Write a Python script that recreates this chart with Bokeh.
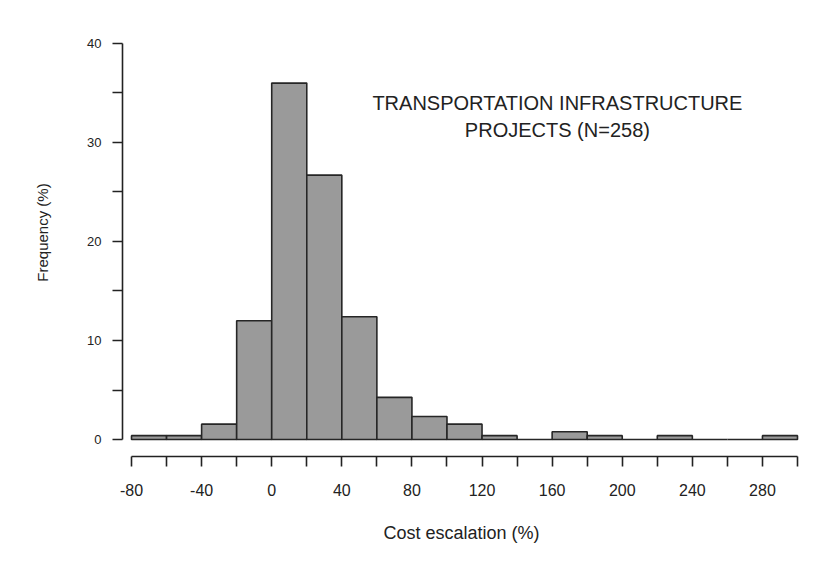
from bokeh.plotting import figure
from bokeh.models import FixedTicker, Range1d, ColumnDataSource
from bokeh.core.properties import value
from bokeh.embed import file_html
from bokeh.resources import INLINE

# ---- data ----
bin_left = [-80, -60, -40, -20, 0, 20, 40, 60, 80, 100, 120, 140, 160, 180, 200, 220, 240, 260, 280]
bin_right = [-60, -40, -20, 0, 20, 40, 60, 80, 100, 120, 140, 160, 180, 200, 220, 240, 260, 280, 300]
freq_pct = [0.39, 0.39, 1.55, 12.0, 36.0, 26.7, 12.4, 4.26, 2.33, 1.55, 0.39, 0.0,
            0.78, 0.39, 0.0, 0.39, 0.0, 0.0, 0.39]

x_ticks = [-80, -40, 0, 40, 80, 120, 160, 200, 240, 280]
x_tick_labels = ["-80", "-40", "0", "40", "80", "120", "160", "200", "240", "280"]
x_minor = [-60, -20, 20, 60, 100, 140, 180, 220, 260, 300]
y_ticks = [0, 10, 20, 30, 40]
y_minor = [5, 15, 25, 35]

note_lines = ["TRANSPORTATION INFRASTRUCTURE", "PROJECTS (N=258)"]
note_x = [163, 163]
note_y = [34.0, 31.25]

FONT = "Liberation Sans"
INK = "#222222"

p = figure(width=825, height=577, output_backend="svg", toolbar_location=None,
           x_range=Range1d(-85.14, 301.71), y_range=Range1d(-1.717, 43.535),
           min_border_left=122, min_border_right=25, min_border_top=8, min_border_bottom=121)

p.grid.visible = False
p.outline_line_color = None
p.background_fill_color = "white"
p.border_fill_color = "white"

src = ColumnDataSource(dict(left=bin_left, right=bin_right, top=freq_pct, bottom=[0] * len(freq_pct)))
p.quad(left="left", right="right", top="top", bottom="bottom", source=src,
       fill_color="#9a9a9a", line_color="#262626", line_width=1.6)

p.text(x=note_x, y=note_y, text=note_lines, text_align="center", text_baseline="middle",
       text_font=value(FONT), text_font_size="20px", text_color=INK)

# x axis
xa = p.xaxis[0]
xa.ticker = FixedTicker(ticks=x_ticks, minor_ticks=x_minor)
xa.major_label_overrides = dict(zip(x_ticks, x_tick_labels))
xa.bounds = (-80, 300)
xa.axis_label = "Cost escalation (%)"
xa.axis_label_text_font = FONT
xa.axis_label_text_font_style = "normal"
xa.axis_label_text_font_size = "18px"
xa.axis_label_text_color = INK
xa.axis_label_standoff = 24
xa.major_label_text_font = FONT
xa.major_label_text_font_size = "16px"
xa.major_label_text_color = INK
xa.major_label_standoff = 17
xa.axis_line_color = INK
xa.axis_line_width = 1.6
xa.major_tick_line_color = INK
xa.minor_tick_line_color = INK
xa.major_tick_line_width = 1.6
xa.minor_tick_line_width = 1.6
xa.major_tick_in = 0
xa.major_tick_out = 10
xa.minor_tick_in = 0
xa.minor_tick_out = 10

# y axis
ya = p.yaxis[0]
ya.ticker = FixedTicker(ticks=y_ticks, minor_ticks=y_minor)
ya.bounds = (0, 40)
ya.axis_label = "Frequency (%)"
ya.axis_label_text_font = FONT
ya.axis_label_text_font_style = "normal"
ya.axis_label_text_font_size = "15px"
ya.axis_label_text_color = INK
ya.axis_label_standoff = 33
ya.major_label_orientation = "horizontal"
ya.major_label_text_font = FONT
ya.major_label_text_font_size = "13px"
ya.major_label_text_color = INK
ya.major_label_standoff = 11
ya.axis_line_color = INK
ya.axis_line_width = 1.6
ya.major_tick_line_color = INK
ya.minor_tick_line_color = INK
ya.major_tick_line_width = 1.6
ya.minor_tick_line_width = 1.6
ya.major_tick_in = 0
ya.major_tick_out = 10
ya.minor_tick_in = 0
ya.minor_tick_out = 10

open("out.html", "w").write(file_html(p, INLINE))
